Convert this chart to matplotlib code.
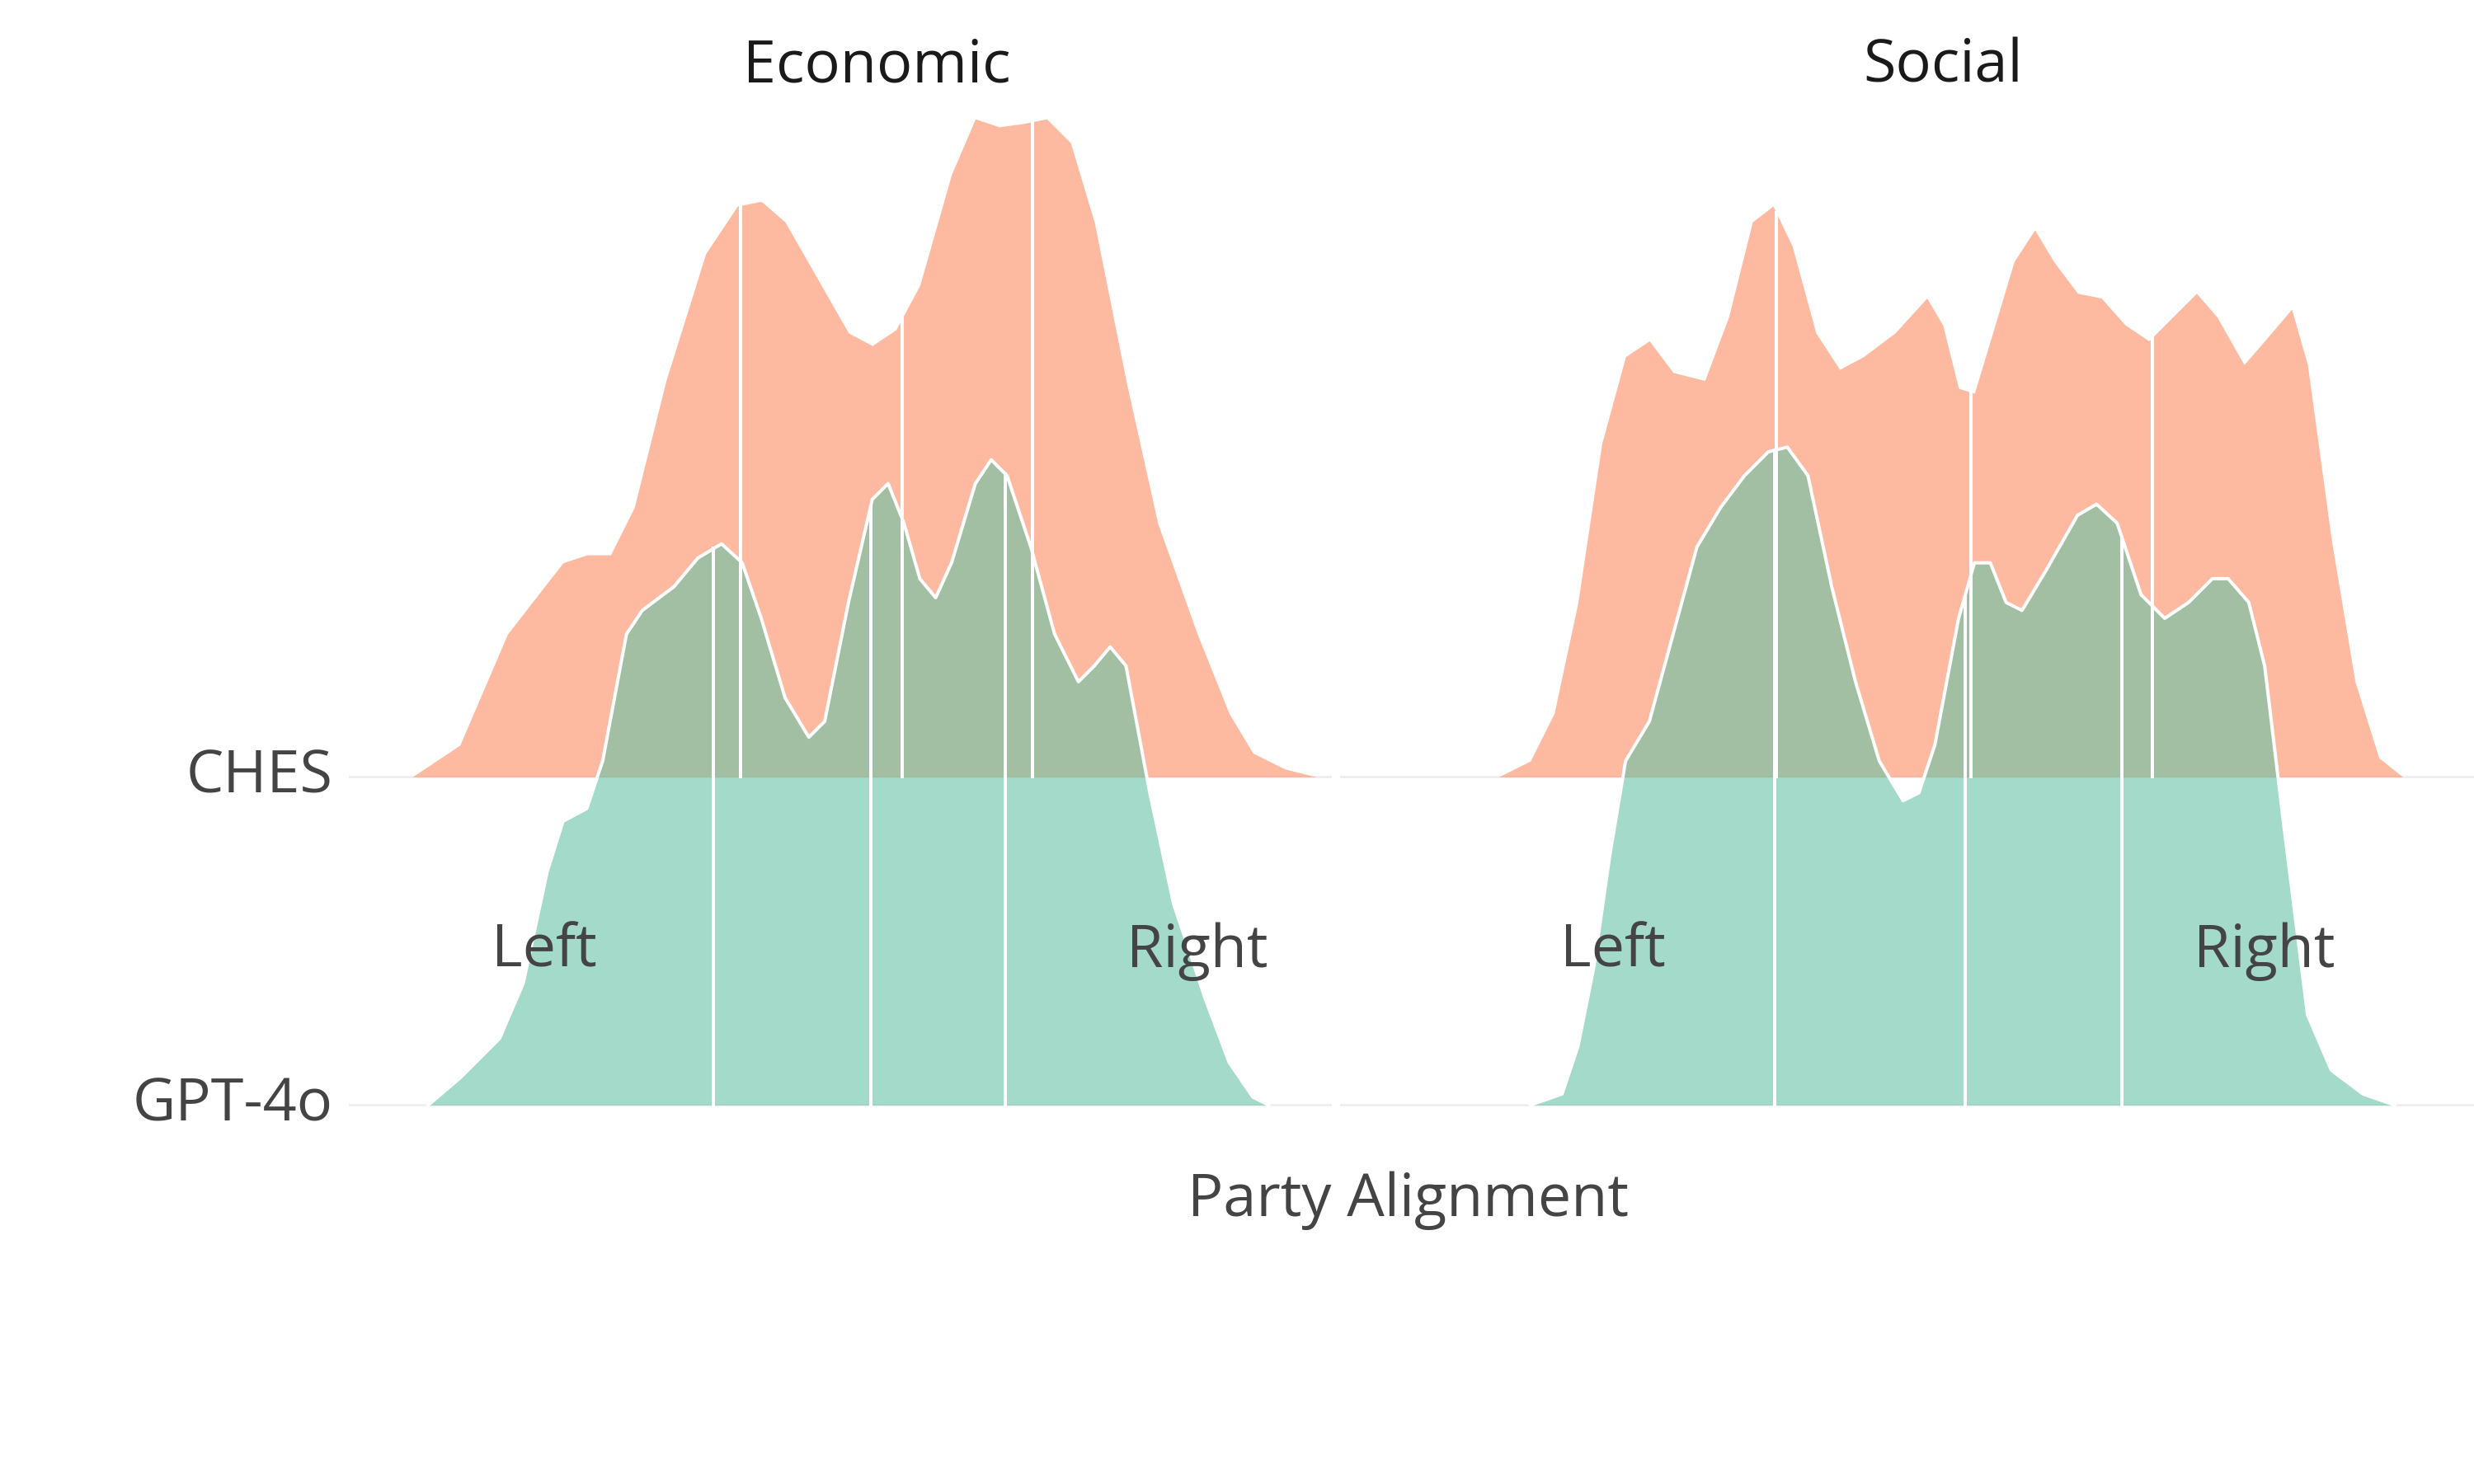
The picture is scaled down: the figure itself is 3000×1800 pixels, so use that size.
import numpy as np
import matplotlib.pyplot as plt

plt.rcParams['font.family'] = ['Open Sans', 'DejaVu Sans']

# ridge outlines (x = party position, h = density height)
econ_ches_x = [260, 290, 320, 355, 370, 385, 400, 420, 445, 465, 480, 495, 515, 535, 550, 565, 580, 600, 615, 630, 645, 660, 675, 690, 710, 730, 755, 775, 790, 810, 830]
econ_ches_y = [490, 470, 400, 355, 350, 350, 320, 240, 160, 130, 127, 140, 175, 210, 218, 208, 180, 110, 75, 80, 78, 75, 90, 140, 240, 330, 400, 450, 475, 485, 490]
econ_gpt_x = [270, 290, 315, 330, 345, 355, 370, 380, 395, 405, 425, 440, 455, 468, 480, 495, 510, 520, 535, 550, 560, 570, 580, 590, 600, 615, 625, 635, 650, 665, 680, 690, 700, 710, 725, 740, 760, 775, 790, 800]
econ_gpt_y = [697, 680, 655, 620, 550, 518, 510, 480, 400, 385, 370, 352, 343, 355, 390, 440, 465, 455, 380, 315, 305, 330, 365, 377, 355, 305, 290, 300, 345, 400, 430, 420, 408, 420, 500, 570, 630, 670, 692, 697]
soc_ches_x = [945, 965, 980, 995, 1010, 1025, 1040, 1055, 1075, 1090, 1105, 1118, 1130, 1145, 1160, 1175, 1195, 1215, 1225, 1235, 1245, 1255, 1270, 1283, 1295, 1310, 1325, 1340, 1355, 1370, 1385, 1398, 1415, 1428, 1445, 1455, 1470, 1485, 1500, 1515]
soc_ches_y = [490, 480, 450, 380, 280, 225, 215, 235, 240, 200, 140, 130, 155, 210, 233, 225, 210, 188, 205, 245, 248, 215, 165, 145, 165, 185, 188, 205, 215, 200, 185, 200, 230, 215, 195, 230, 340, 430, 478, 490]
soc_gpt_x = [965, 985, 995, 1005, 1015, 1025, 1040, 1055, 1070, 1085, 1100, 1115, 1127, 1140, 1155, 1170, 1185, 1200, 1210, 1220, 1235, 1245, 1255, 1265, 1275, 1290, 1310, 1322, 1335, 1350, 1365, 1380, 1395, 1405, 1418, 1428, 1440, 1455, 1470, 1490, 1510]
soc_gpt_y = [697, 690, 660, 610, 540, 480, 455, 400, 345, 320, 300, 285, 282, 300, 370, 430, 480, 505, 500, 470, 390, 355, 355, 380, 385, 360, 325, 318, 330, 375, 390, 380, 365, 365, 380, 420, 520, 640, 675, 690, 697]
# quartiles
econ_ches_q = [467, 569, 651]
econ_gpt_q = [450, 549, 634]
soc_ches_q = [1120, 1243, 1357]
soc_gpt_q = [1119, 1239, 1338]

ORANGE = '#fc8d62'
GREEN = '#66c2a5'
GREY = '#444444'
STEP = 207.0
FS = 27

fig = plt.figure(figsize=(15.625, 9.375), dpi=192)

def ridge(ax, x, y, base_px, base, color, q, outline):
    x = np.array(x, float)
    h = (base_px - np.array(y, float)) / STEP
    ax.fill_between(x, base, base + h, color=color, alpha=0.6, lw=0, zorder=2 if outline else 1)
    if outline:
        ax.plot(x, base + h, color='white', lw=1.5, zorder=4)
    for qq in q:
        top = np.interp(qq, x, h)
        ax.plot([qq, qq], [base, base + top], color='white', lw=1.5, zorder=3)

panels = [
    ('Economic', [220, 840], 553, 343, 755, econ_ches_x, econ_ches_y, econ_gpt_x, econ_gpt_y, econ_ches_q, econ_gpt_q),
    ('Social', [845, 1560], 1225, 1017, 1428, soc_ches_x, soc_ches_y, soc_gpt_x, soc_gpt_y, soc_ches_q, soc_gpt_q),
]
for title, (x0, x1), tx, lx, rx, cx, cy, gx, gy, cq, gq in panels:
    ax = fig.add_axes([x0 / 1560, 0, (x1 - x0) / 1560, 1])
    ax.set_xlim(x0, x1)
    ax.set_ylim(-239 / STEP, 697 / STEP)
    ax.axis('off')
    ax.axhline(0, color='#eeeeee', lw=1, zorder=0)
    ax.axhline(1, color='#eeeeee', lw=1, zorder=0)
    ridge(ax, cx, cy, 490, 1, ORANGE, cq, False)
    ridge(ax, gx, gy, 697, 0, GREEN, gq, True)
    ax.text(tx, 655 / STEP, title, ha='center', va='center', fontsize=FS, color='#1a1a1a')
    ax.text(lx, 97 / STEP, 'Left', ha='center', va='center', fontsize=FS, color=GREY, zorder=5)
    ax.text(rx, 97 / STEP, 'Right', ha='center', va='center', fontsize=FS, color=GREY, zorder=5)

fig.text(210 / 1560, 1 - 490 / 936, 'CHES', ha='right', va='center', fontsize=FS, color=GREY)
fig.text(210 / 1560, 1 - 697 / 936, 'GPT-4o', ha='right', va='center', fontsize=FS, color=GREY)
fig.text(888 / 1560, 1 - 757 / 936, 'Party Alignment', ha='center', va='center', fontsize=FS, color=GREY)

fig.savefig('out.png', dpi=192, facecolor='white')
